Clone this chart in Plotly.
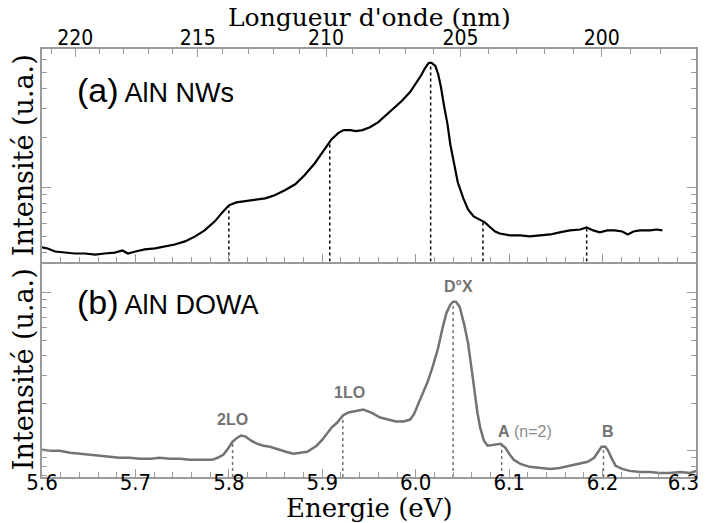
import numpy as np
import plotly.graph_objects as go

# ---------------- data ----------------
# (a) AlN NWs : energy (eV) and intensity (arb. units, log scale)
nw_energy = [5.600, 5.606, 5.614, 5.625, 5.635, 5.646, 5.657, 5.667, 5.678, 5.686, 5.692, 5.700,
             5.710, 5.721, 5.732, 5.742, 5.753, 5.764, 5.774, 5.785, 5.793, 5.800, 5.808, 5.817,
             5.828, 5.839, 5.849, 5.860, 5.871, 5.881, 5.892, 5.903, 5.910, 5.917, 5.923, 5.930,
             5.936, 5.943, 5.951, 5.960, 5.968, 5.977, 5.985, 5.994, 6.000, 6.006, 6.010, 6.014,
             6.017, 6.021, 6.024, 6.027, 6.030, 6.034, 6.037, 6.041, 6.045, 6.051, 6.056, 6.062,
             6.069, 6.074, 6.080, 6.085, 6.090, 6.101, 6.112, 6.122, 6.133, 6.144, 6.154, 6.165,
             6.176, 6.183, 6.190, 6.197, 6.205, 6.213, 6.221, 6.227, 6.233, 6.240, 6.251, 6.258, 6.264]
nw_intens = [0.431, 0.425, 0.407, 0.401, 0.396, 0.396, 0.390, 0.396, 0.401, 0.413, 0.396, 0.407,
             0.419, 0.425, 0.437, 0.449, 0.469, 0.503, 0.547, 0.621, 0.704, 0.777, 0.810, 0.822,
             0.833, 0.857, 0.894, 0.959, 1.043, 1.184, 1.401, 1.705, 1.962, 2.135, 2.227, 2.227,
             2.195, 2.227, 2.322, 2.490, 2.748, 3.032, 3.345, 3.796, 4.246, 4.819, 5.317, 5.703,
             5.703, 5.467, 4.887, 4.072, 3.207, 2.422, 1.829, 1.381, 1.073, 0.857, 0.734, 0.666,
             0.638, 0.612, 0.570, 0.539, 0.524, 0.510, 0.510, 0.503, 0.510, 0.517, 0.532, 0.547,
             0.554, 0.570, 0.547, 0.532, 0.547, 0.547, 0.539, 0.517, 0.539, 0.547, 0.547, 0.554, 0.547]

# (b) AlN DOWA : energy (eV) and intensity (arb. units, log scale)
dowa_energy = [5.600, 5.609, 5.619, 5.630, 5.641, 5.651, 5.662, 5.673, 5.683, 5.694, 5.705, 5.716,
               5.726, 5.737, 5.748, 5.758, 5.769, 5.782, 5.788, 5.794, 5.799, 5.804, 5.809, 5.813,
               5.818, 5.824, 5.830, 5.837, 5.844, 5.853, 5.861, 5.869, 5.876, 5.884, 5.889, 5.894,
               5.900, 5.905, 5.910, 5.916, 5.922, 5.928, 5.933, 5.938, 5.944, 5.949, 5.954, 5.962,
               5.970, 5.979, 5.987, 5.994, 5.998, 6.002, 6.008, 6.013, 6.018, 6.024, 6.029, 6.033,
               6.037, 6.040, 6.043, 6.047, 6.052, 6.056, 6.060, 6.063, 6.066, 6.069, 6.073, 6.077,
               6.083, 6.087, 6.091, 6.096, 6.100, 6.105, 6.112, 6.122, 6.133, 6.144, 6.154, 6.165,
               6.176, 6.184, 6.191, 6.195, 6.199, 6.203, 6.206, 6.210, 6.214, 6.221, 6.229, 6.240,
               6.251, 6.261, 6.272, 6.283, 6.294, 6.300]
dowa_intens = [1.015, 1.000, 1.000, 0.971, 0.957, 0.943, 0.929, 0.916, 0.903, 0.903, 0.889, 0.889,
               0.903, 0.889, 0.889, 0.876, 0.876, 0.876, 0.903, 0.943, 1.030, 1.141, 1.210, 1.246,
               1.228, 1.158, 1.108, 1.076, 1.060, 1.015, 0.985, 0.957, 0.971, 0.985, 1.030, 1.076,
               1.175, 1.283, 1.401, 1.508, 1.671, 1.746, 1.772, 1.798, 1.824, 1.772, 1.721, 1.622,
               1.575, 1.530, 1.530, 1.575, 1.696, 1.935, 2.307, 2.751, 3.378, 4.463, 6.073, 7.458,
               8.386, 8.763, 8.763, 8.143, 6.254, 4.803, 3.233, 2.307, 1.746, 1.401, 1.158, 1.076,
               1.092, 1.108, 1.108, 1.045, 0.957, 0.876, 0.826, 0.791, 0.779, 0.768, 0.779, 0.803,
               0.826, 0.851, 0.903, 0.985, 1.060, 1.060, 1.000, 0.889, 0.803, 0.768, 0.746, 0.735,
               0.735, 0.724, 0.724, 0.735, 0.724, 0.746]

# peak positions (eV) marked by dotted lines
nw_peaks = [5.800, 5.908, 6.016, 6.072, 6.183]
dowa_peaks = [5.804, 5.922, 6.040, 6.092, 6.201]
dowa_labels = ["2LO", "1LO", "D°X", "A", "B"]

# axis ranges / ticks
energy_range = [5.6, 6.3]
energy_ticks = [5.6, 5.7, 5.8, 5.9, 6.0, 6.1, 6.2, 6.3]
energy_ticktext = ["5.6", "5.7", "5.8", "5.9", "6.0", "6.1", "6.2", "6.3"]
nw_log_range = [-0.451, 0.841]
dowa_log_range = [-0.166, 1.197]
wl_major = [220, 215, 210, 205, 200]
wl_minor = list(range(198, 224))
HC = 1239.84  # eV*nm

# ---------------- figure ----------------
AX = "#9a9a9a"
GREY = "#737373"
serif = "DejaVu Serif"
narrow = "Liberation Sans Narrow, Arial Narrow, DejaVu Sans Condensed, sans-serif"
sans = "Liberation Sans, Arial, sans-serif"

fig = go.Figure()

fig.add_trace(go.Scatter(x=nw_energy, y=nw_intens, mode="lines",
                         line=dict(color="black", width=2.2), xaxis="x", yaxis="y",
                         showlegend=False, hoverinfo="skip"))
fig.add_trace(go.Scatter(x=dowa_energy, y=dowa_intens, mode="lines",
                         line=dict(color=GREY, width=2.5), xaxis="x2", yaxis="y2",
                         showlegend=False, hoverinfo="skip"))

# dotted markers
nw_bottom = 10 ** nw_log_range[0]
for e in nw_peaks:
    top = float(np.interp(e, nw_energy, nw_intens))
    fig.add_trace(go.Scatter(x=[e, e], y=[nw_bottom, top], mode="lines",
                             line=dict(color="black", width=1.5, dash="dot"),
                             xaxis="x", yaxis="y", showlegend=False, hoverinfo="skip"))
dowa_bottom = 10 ** dowa_log_range[0]
for e in dowa_peaks:
    top = float(np.interp(e, dowa_energy, dowa_intens))
    fig.add_trace(go.Scatter(x=[e, e], y=[dowa_bottom, top], mode="lines",
                             line=dict(color=GREY, width=1.5, dash="dot"),
                             xaxis="x2", yaxis="y2", showlegend=False, hoverinfo="skip"))

# invisible trace to carry the wavelength axis
fig.add_trace(go.Scatter(x=[energy_range[0]], y=[1], mode="markers", marker=dict(opacity=0),
                         xaxis="x3", yaxis="y", showlegend=False, hoverinfo="skip"))

# last energy label is pushed left a little so that it stays inside the window
bottom_ticktext = energy_ticktext[:-1] + [energy_ticktext[-1] + "&#160;" * 4]

split = 0.5035
common_x = dict(range=energy_range, showgrid=False, zeroline=False, showline=True,
                linecolor=AX, linewidth=1.5, ticks="inside", tickcolor=AX, ticklen=8,
                tickwidth=1, tickvals=energy_ticks, automargin=False,
                minor=dict(dtick=0.02, tick0=5.6, ticks="inside", ticklen=5, tickcolor=AX))
common_y = dict(type="log", showgrid=False, zeroline=False, showline=True, linecolor=AX,
                linewidth=1.5, mirror="ticks", ticks="inside", tickcolor=AX, ticklen=9,
                dtick=1, tick0=0, showticklabels=False, automargin=False,
                minor=dict(dtick="D1", ticks="inside", ticklen=5, tickcolor=AX),
                title=dict(text="Intensité (u.a.)", font=dict(family=serif, size=27, color="black"),
                           standoff=0))

# the page adds an 8 px body margin: figure is 8 px smaller so it fits the 711x523 window
fig.update_layout(
    width=703, height=515,
    margin=dict(l=34, r=15, t=41, b=46, autoexpand=False),
    paper_bgcolor="white", plot_bgcolor="white",
    xaxis=dict(common_x, anchor="y", showticklabels=False),
    xaxis2=dict(common_x, anchor="y2", showticklabels=True, ticktext=bottom_ticktext,
                ticklabelstandoff=-15, ticklabeloverflow="allow",
                tickfont=dict(family=narrow, size=22, color="black")),
    xaxis3=dict(range=energy_range, overlaying="x", anchor="y", side="top",
                showgrid=False, zeroline=False, showline=True, linecolor=AX, linewidth=1.5,
                ticks="inside", tickcolor=AX, ticklen=8, automargin=False,
                ticklabelstandoff=-6,
                tickvals=[HC / w for w in wl_major], ticktext=[str(w) for w in wl_major],
                tickfont=dict(family=narrow, size=21, color="black"),
                minor=dict(tickvals=[HC / w for w in wl_minor], ticks="inside", ticklen=5,
                           tickcolor=AX)),
    yaxis=dict(common_y, domain=[split, 1], range=nw_log_range),
    yaxis2=dict(common_y, domain=[0, split], range=dowa_log_range),
)

annots = [
    dict(xref="paper", yref="paper", x=0.5, y=1, yshift=32, xanchor="center", yanchor="middle",
         text="Longueur d'onde (nm)", font=dict(family=serif, size=25, color="black"),
         showarrow=False),
    dict(xref="paper", yref="paper", x=0.5, y=0, yshift=-31, xanchor="center", yanchor="middle",
         text="Energie (eV)", font=dict(family=serif, size=26, color="black"),
         showarrow=False),
    dict(xref="paper", yref="paper", x=0.05, y=0.905, xanchor="left", yanchor="middle",
         text="<span style='font-size:34px'>(a)</span> AlN NWs",
         font=dict(family=sans, size=27, color="black"), showarrow=False),
    dict(xref="paper", yref="paper", x=0.05, y=0.41, xanchor="left", yanchor="middle",
         text="<span style='font-size:34px'>(b)</span> AlN DOWA",
         font=dict(family=sans, size=27, color="black"), showarrow=False),
]
label_shift = {"2LO": (0, 22), "1LO": (7, 23), "D°X": (5, 15), "A": (0, 13), "B": (4, 15)}
for e, lab in zip(dowa_peaks, dowa_labels):
    yv = float(np.interp(e, dowa_energy, dowa_intens))
    dx, dy = label_shift[lab]
    if lab == "A":
        annots.append(dict(xref="x2", yref="y2", x=e, y=np.log10(yv), xanchor="left",
                           yanchor="middle", xshift=-6, yshift=dy,
                           text="<b>A</b> <span style='color:#8c8c8c'>(n=2)</span>",
                           font=dict(family=sans, size=16, color=GREY), showarrow=False))
    else:
        annots.append(dict(xref="x2", yref="y2", x=e, y=np.log10(yv), xanchor="center",
                           yanchor="middle", xshift=dx, yshift=dy,
                           text="<b>%s</b>" % lab,
                           font=dict(family=sans, size=16, color=GREY), showarrow=False))
fig.update_layout(annotations=annots)

fig.write_html("out.html")
